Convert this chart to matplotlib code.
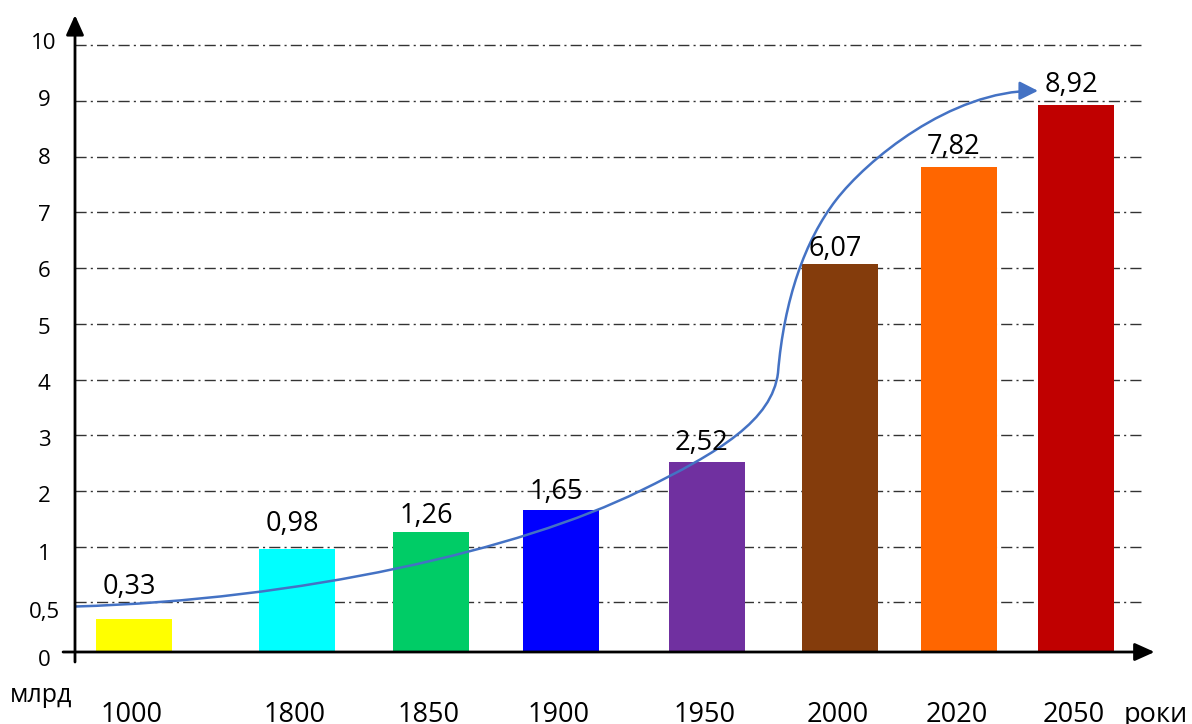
import numpy as np
import matplotlib
matplotlib.use('Agg')
import matplotlib.pyplot as plt
from matplotlib.path import Path
from matplotlib.patches import FancyArrowPatch
from matplotlib.transforms import blended_transform_factory, offset_copy

# population of the world, billions
years = ['1000', '1800', '1850', '1900', '1950', '2000', '2020', '2050']
population = [0.33, 0.98, 1.26, 1.65, 2.52, 6.07, 7.82, 8.92]
bar_colors = ['#FFFF00', '#00FFFF', '#00CC66', '#0000FF',
              '#7030A0', '#843C0C', '#FF6600', '#C00000']

y_ticks = [0, 0.5, 1, 2, 3, 4, 5, 6, 7, 8, 9, 10]
y_tick_labels = ['0', '0,5', '1', '2', '3', '4', '5', '6', '7', '8', '9', '10']

# the year axis is not to scale, bars sit at hand-picked spots
bar_x = [59, 222, 356, 486, 632, 765, 884, 1001]
bar_width = 76
# how high (px) each value label floats over its bar
label_lift = [25, 18, 9, 11, 12, 8, 13, 13]
# small vertical nudges (px) of the value-axis numbers
ytick_nudge = [8, 10, 8, 6, 5, 4.7, 4.7, 3, 3, 1.7, 0, -2]

# freehand growth trend: cubic bezier (start, then 3 points per segment)
trend_pts = [(0, 0.455),
             (225, 0.518), (445, 0.97), (565, 2.0),
             (645, 2.70), (697, 3.27), (703, 4.12),
             (709, 5.43), (730, 6.50), (761, 7.22),
             (791, 7.92), (875, 9.19), (963, 9.18)]

plt.rcParams['font.family'] = ['Open Sans', 'DejaVu Sans']

fig = plt.figure(figsize=(11.92, 7.24), dpi=100)
ax = fig.add_axes([75 / 1192, 72 / 724, 1085 / 1192, 642 / 724])

# the lower part of the value axis is stretched (0..0.5..1 take more room)
seg_v = [0, 0.5, 1, 12]
seg_p = [0, 0.897, 1.889, 12.889]


def forward(v):
    return np.interp(v, seg_v, seg_p)


def inverse(p):
    return np.interp(p, seg_p, seg_v)


ax.set_yscale('function', functions=(forward, inverse))
ax.set_xlim(0, 1085)
ax.set_ylim(0, 10.63)

for spine in ax.spines.values():
    spine.set_visible(False)
ax.set_xticks([])
ax.set_yticks([])

# value-axis numbers
ytrans = blended_transform_factory(ax.transAxes, ax.transData)
for v, lbl, dy in zip(y_ticks, y_tick_labels, ytick_nudge):
    tr = offset_copy(ytrans, fig=fig, y=-dy, units='dots')
    ax.text(-0.0286, v, lbl, transform=tr, ha='center', va='center',
            fontsize=16, clip_on=False)

# dash-dot grid
ax.hlines(y_ticks[1:], 0, 1067, colors='#333333', lw=1,
          linestyles=(0, (8, 3, 1.5, 3)), zorder=1)

ax.bar(bar_x, population, width=bar_width, color=bar_colors, zorder=2)

for x, v, lift in zip(bar_x, population, label_lift):
    ax.annotate(f'{v:.2f}'.replace('.', ','), (x, v),
                xytext=(-3.6, lift * 0.72), textcoords='offset points',
                ha='center', va='baseline', fontsize=19.5, zorder=4)

# trend curve with arrow head
codes = [Path.MOVETO] + [Path.CURVE4] * (len(trend_pts) - 1)
trend = FancyArrowPatch(path=Path(trend_pts, codes),
                        arrowstyle='-|>,head_length=0.8,head_width=0.4',
                        mutation_scale=14, color='#4472C4', lw=1.8,
                        zorder=3)
ax.add_patch(trend)

# axes with arrows
axis_arrow = dict(arrowstyle='-|>,head_length=0.6,head_width=0.27',
                  mutation_scale=20, lw=2, color='black',
                  shrinkA=0, shrinkB=0)
ax.annotate('', xy=(0, 0.992), xytext=(0, -0.0156), xycoords='axes fraction',
            arrowprops=axis_arrow, annotation_clip=False, zorder=5)
ax.annotate('', xy=(0.995, 0), xytext=(-0.011, 0), xycoords='axes fraction',
            arrowprops=axis_arrow, annotation_clip=False, zorder=5)

# year labels under the axis
trans = ax.get_xaxis_transform()
for x, year in zip(bar_x, years):
    ax.text(x - 2, -0.109, year, transform=trans, ha='center', va='baseline',
            fontsize=19.5, clip_on=False)

fig.text(10 / 1192, 1 - 702 / 724, 'млрд', ha='left', va='baseline',
         fontsize=18)
fig.text(1124 / 1192, 1 - 722 / 724, 'роки', ha='left', va='baseline',
         fontsize=19.5)

fig.savefig('out.png', dpi=100)
